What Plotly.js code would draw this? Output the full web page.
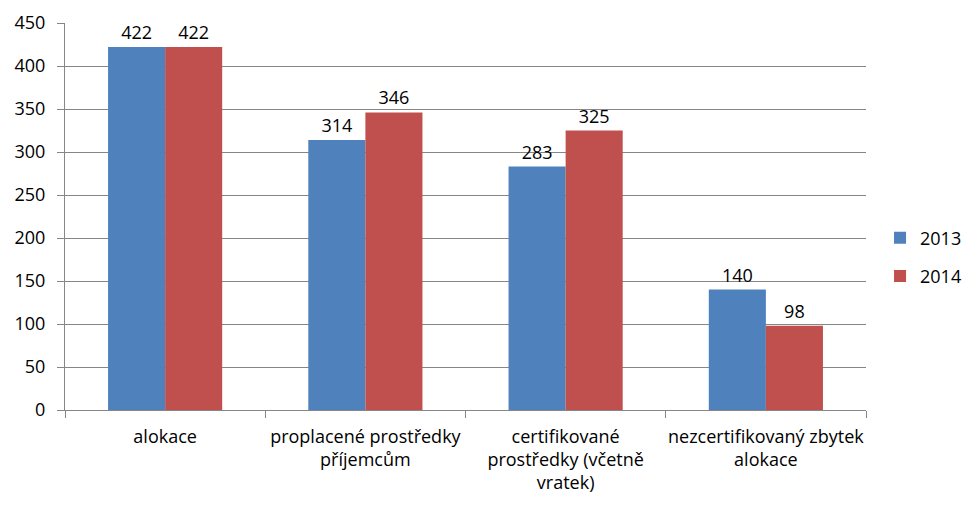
<!DOCTYPE html>
<html><head><meta charset="utf-8">
<script src="https://cdn.plot.ly/plotly-3.0.1.min.js"></script>
<style>html,body{margin:0;padding:0;background:#fff}#c{width:980px;height:514px}</style>
</head><body><div id="c"></div>
<script>
const categories = ["alokace", "proplacené prostředky<br>příjemcům", "certifikované<br>prostředky (včetně<br>vratek)", "nezcertifikovaný zbytek<br>alokace"];
const seriesNames = ["2013", "2014"];
const values2013 = [422, 314, 283, 140];
const values2014 = [422, 346, 325, 98];
const colors = ["#4F81BD", "#C0504D"];
const yTicks = [0, 50, 100, 150, 200, 250, 300, 350, 400, 450];

const F = "Open Sans, Lato, sans-serif";
const traces = [values2013, values2014].map((v, i) => ({
  type: "bar", x: categories, y: v, name: seriesNames[i],
  marker: {color: colors[i]}, text: v.map(String), textposition: "outside",
  cliponaxis: false, textfont: {family: F, size: 18, color: "#000"},
  legendgroup: "g" + i
}));
Plotly.newPlot("c", traces, {
  width: 980, height: 514,
  margin: {l: 65, r: 114, t: 23, b: 104},
  paper_bgcolor: "#fff", plot_bgcolor: "#fff",
  font: {family: F, size: 18, color: "#000"},
  barmode: "group", bargap: 0.43, bargroupgap: 0,
  showlegend: true,
  legend: {xref: "container", yref: "container", x: 0.898, xanchor: "left", y: 0.5, yanchor: "middle", traceorder: "grouped", tracegroupgap: 12, font: {family: F, size: 18}, itemwidth: 30},
  xaxis: {showline: true, linecolor: "#868686", ticks: "outside", tickson: "boundaries", ticklen: 7, tickcolor: "#868686", showgrid: false, tickangle: 0, ticklabelstandoff: 10, tickfont: {family: F, size: 18}},
  yaxis: {range: [0, 450], tickvals: yTicks, showline: true, linecolor: "#868686", ticks: "outside", ticklen: 7, tickcolor: "#868686", gridcolor: "#868686", zeroline: false, ticklabelstandoff: 8, tickfont: {family: F, size: 18}}
}, {displayModeBar: false, staticPlot: true});
</script></body></html>
